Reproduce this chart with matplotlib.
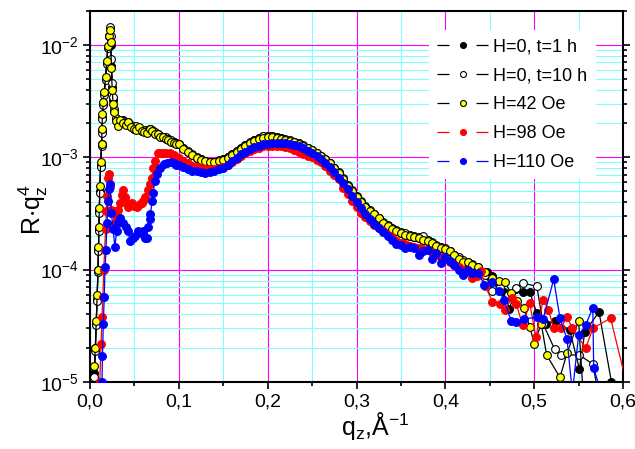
import matplotlib
matplotlib.use("Agg")
import matplotlib.pyplot as plt
from matplotlib.lines import Line2D
from matplotlib.ticker import MultipleLocator, LogLocator, NullFormatter, FuncFormatter

plt.rcParams['font.family'] = ['Liberation Sans', 'DejaVu Sans']
plt.rcParams['mathtext.fontset'] = 'custom'
plt.rcParams['mathtext.rm'] = 'Liberation Sans'
plt.rcParams['mathtext.it'] = 'Liberation Sans:italic'

# === DATA (q in 1/A, R*q^4)
# shared q grid of the smooth middle part
Q_MID = [0.100, 0.105, 0.110, 0.115, 0.120, 0.125, 0.130, 0.135, 0.140, 0.145,
         0.150, 0.155, 0.160, 0.165, 0.170, 0.175, 0.180, 0.185, 0.190, 0.195,
         0.200, 0.205, 0.210, 0.215, 0.220, 0.225, 0.230, 0.235, 0.240, 0.245,
         0.250, 0.255, 0.260, 0.265, 0.270, 0.275, 0.280, 0.285, 0.290, 0.295,
         0.300, 0.305, 0.310, 0.315, 0.320, 0.325, 0.330, 0.335, 0.340, 0.345,
         0.350, 0.355, 0.360, 0.365, 0.370, 0.375, 0.380, 0.385, 0.390, 0.395,
         0.400, 0.405, 0.410, 0.415, 0.420, 0.425, 0.430]

# H=0 heads share one q grid
H0_HEAD_Q = [0.005, 0.006, 0.007, 0.008, 0.009, 0.0095, 0.010, 0.0105, 0.011, 0.012,
             0.013, 0.0135, 0.014, 0.015, 0.016, 0.0175, 0.019, 0.020, 0.021, 0.0225,
             0.0235, 0.024, 0.025, 0.026, 0.027, 0.029, 0.031, 0.034, 0.037, 0.040,
             0.043, 0.046, 0.049, 0.052, 0.055, 0.058, 0.061, 0.064, 0.067, 0.070,
             0.073, 0.076, 0.079, 0.082, 0.085, 0.088, 0.091, 0.094, 0.097]

BLACK_HEAD_R = [1.2e-5, 2.0e-5, 3.3e-5, 5.5e-5, 1.0e-4, 1.5e-4, 2.3e-4, 3.3e-4, 5.0e-4, 8.5e-4,
                1.3e-3, 1.7e-3, 2.3e-3, 3.0e-3, 3.7e-3, 5.0e-3, 7.0e-3, 9.5e-3, 1.2e-2, 1.4e-2,
                1.0e-2, 6.5e-3, 4.2e-3, 3.2e-3, 2.6e-3, 2.2e-3, 2.05e-3, 2.1e-3, 2.15e-3, 2.05e-3,
                2.0e-3, 1.9e-3, 1.85e-3, 1.85e-3, 1.8e-3, 1.75e-3, 1.72e-3, 1.75e-3, 1.78e-3, 1.75e-3,
                1.65e-3, 1.6e-3, 1.55e-3, 1.52e-3, 1.48e-3, 1.44e-3, 1.4e-3, 1.37e-3, 1.33e-3]
BLACK_MID_R = [1.30e-3, 1.20e-3, 1.12e-3, 1.05e-3, 9.9e-4, 9.6e-4, 9.2e-4, 9.0e-4, 9.0e-4, 9.3e-4,
               9.6e-4, 1.00e-3, 1.06e-3, 1.13e-3, 1.20e-3, 1.28e-3, 1.35e-3, 1.42e-3, 1.48e-3, 1.53e-3,
               1.55e-3, 1.54e-3, 1.50e-3, 1.47e-3, 1.43e-3, 1.40e-3, 1.36e-3, 1.31e-3, 1.27e-3, 1.20e-3,
               1.14e-3, 1.07e-3, 1.01e-3, 9.5e-4, 8.8e-4, 8.0e-4, 7.3e-4, 6.4e-4, 5.6e-4, 5.0e-4,
               4.4e-4, 4.0e-4, 3.6e-4, 3.3e-4, 3.1e-4, 2.8e-4, 2.6e-4, 2.45e-4, 2.3e-4, 2.2e-4,
               2.1e-4, 2.05e-4, 2.0e-4, 1.95e-4, 1.9e-4, 1.85e-4, 1.8e-4, 1.7e-4, 1.6e-4, 1.55e-4,
               1.52e-4, 1.45e-4, 1.35e-4, 1.25e-4, 1.2e-4, 1.15e-4, 1.1e-4]
BLACK_TAIL_Q = [0.437, 0.447, 0.452, 0.459, 0.466, 0.472, 0.480, 0.487, 0.495, 0.503,
                0.513, 0.523, 0.540, 0.551, 0.557, 0.573, 0.587]
BLACK_TAIL_R = [1.02e-4, 9.5e-5, 8.8e-5, 7.8e-5, 6.3e-5, 4.5e-5, 6.7e-5, 6.3e-5, 6.3e-5, 4.1e-5,
                3.3e-5, 3.5e-5, 2.9e-5, 1.3e-5, 2.8e-5, 4.2e-5, 1.0e-5]

WHITE_HEAD_R = [1.1e-5, 1.9e-5, 3.2e-5, 5.3e-5, 9.5e-5, 1.45e-4, 2.2e-4, 3.2e-4, 4.8e-4, 8.2e-4,
                1.25e-3, 1.65e-3, 2.2e-3, 2.9e-3, 3.6e-3, 4.9e-3, 6.8e-3, 9.3e-3, 1.2e-2, 1.45e-2,
                1.2e-2, 7.5e-3, 4.6e-3, 3.4e-3, 2.7e-3, 2.25e-3, 2.1e-3, 2.15e-3, 2.1e-3, 2.0e-3,
                2.05e-3, 1.95e-3, 1.8e-3, 1.9e-3, 1.82e-3, 1.7e-3, 1.75e-3, 1.7e-3, 1.8e-3, 1.72e-3,
                1.68e-3, 1.58e-3, 1.56e-3, 1.5e-3, 1.5e-3, 1.45e-3, 1.41e-3, 1.38e-3, 1.34e-3]
WHITE_MID_R = [1.31e-3, 1.21e-3, 1.13e-3, 1.06e-3, 1.00e-3, 9.6e-4, 9.3e-4, 9.1e-4, 9.1e-4, 9.4e-4,
               9.7e-4, 1.01e-3, 1.07e-3, 1.14e-3, 1.21e-3, 1.29e-3, 1.36e-3, 1.43e-3, 1.49e-3, 1.53e-3,
               1.54e-3, 1.53e-3, 1.50e-3, 1.47e-3, 1.44e-3, 1.41e-3, 1.37e-3, 1.33e-3, 1.28e-3, 1.22e-3,
               1.15e-3, 1.08e-3, 1.02e-3, 9.6e-4, 8.9e-4, 8.1e-4, 7.4e-4, 6.5e-4, 5.7e-4, 5.1e-4,
               4.5e-4, 4.1e-4, 3.7e-4, 3.4e-4, 3.15e-4, 2.9e-4, 2.65e-4, 2.5e-4, 2.35e-4, 2.25e-4,
               2.15e-4, 2.1e-4, 2.05e-4, 2.0e-4, 1.95e-4, 2.0e-4, 1.85e-4, 1.75e-4, 1.65e-4, 1.6e-4,
               1.55e-4, 1.45e-4, 1.35e-4, 1.3e-4, 1.22e-4, 1.16e-4, 1.12e-4]
WHITE_TAIL_Q = [0.437, 0.445, 0.453, 0.462, 0.470, 0.479, 0.487, 0.503, 0.510, 0.523,
                0.530, 0.551, 0.566, 0.575]
WHITE_TAIL_R = [1.05e-4, 9.0e-5, 6.5e-5, 7.0e-5, 6.0e-5, 6.9e-5, 7.6e-5, 7.1e-5, 3.3e-5, 1.96e-5,
                1.74e-5, 1.74e-5, 1.44e-5, 6e-6]

YELLOW_HEAD_R = [1.4e-5, 2.0e-5, 3.5e-5, 6.0e-5, 1.0e-4, 1.6e-4, 2.4e-4, 3.5e-4, 5.5e-4, 9.0e-4,
                 1.3e-3, 1.8e-3, 2.4e-3, 3.1e-3, 3.8e-3, 5.2e-3, 7.2e-3, 9.8e-3, 1.2e-2, 1.35e-2,
                 1.05e-2, 6.2e-3, 4.0e-3, 3.0e-3, 2.5e-3, 2.1e-3, 1.9e-3, 2.15e-3, 2.0e-3, 1.95e-3,
                 2.05e-3, 1.85e-3, 1.8e-3, 1.75e-3, 1.85e-3, 1.7e-3, 1.68e-3, 1.65e-3, 1.8e-3, 1.7e-3,
                 1.62e-3, 1.6e-3, 1.52e-3, 1.5e-3, 1.45e-3, 1.42e-3, 1.38e-3, 1.35e-3, 1.32e-3]
YELLOW_MID_R = [1.30e-3, 1.19e-3, 1.11e-3, 1.04e-3, 9.8e-4, 9.5e-4, 9.2e-4, 9.0e-4, 9.0e-4, 9.2e-4,
                9.5e-4, 9.9e-4, 1.05e-3, 1.12e-3, 1.19e-3, 1.26e-3, 1.33e-3, 1.39e-3, 1.44e-3, 1.48e-3,
                1.50e-3, 1.50e-3, 1.48e-3, 1.45e-3, 1.42e-3, 1.39e-3, 1.36e-3, 1.32e-3, 1.27e-3, 1.21e-3,
                1.15e-3, 1.09e-3, 1.02e-3, 9.6e-4, 8.9e-4, 8.1e-4, 7.3e-4, 6.4e-4, 5.6e-4, 5.0e-4,
                4.4e-4, 4.0e-4, 3.6e-4, 3.3e-4, 3.1e-4, 2.85e-4, 2.6e-4, 2.45e-4, 2.3e-4, 2.2e-4,
                2.1e-4, 2.05e-4, 2.0e-4, 1.95e-4, 1.9e-4, 1.85e-4, 1.8e-4, 1.72e-4, 1.62e-4, 1.56e-4,
                1.52e-4, 1.45e-4, 1.35e-4, 1.25e-4, 1.18e-4, 1.16e-4, 1.1e-4]
YELLOW_TAIL_Q = [0.437, 0.445, 0.452, 0.460, 0.467, 0.474, 0.481, 0.488, 0.495, 0.500,
                 0.508, 0.514, 0.529, 0.537, 0.550, 0.556]
YELLOW_TAIL_R = [1.05e-4, 9.5e-5, 8.5e-5, 8.0e-5, 7.7e-5, 6.2e-5, 5.3e-5, 4.6e-5, 3.1e-5, 2.2e-5,
                 3.3e-5, 1.74e-5, 1.1e-5, 1.8e-5, 3.5e-5, 6e-6]

RED_HEAD_Q = [0.011, 0.0125, 0.0135, 0.0145, 0.0155, 0.0165, 0.0175, 0.0185, 0.019, 0.020,
              0.021, 0.0225, 0.024, 0.026, 0.028, 0.030, 0.032, 0.034, 0.036, 0.037,
              0.039, 0.041, 0.043, 0.045, 0.047, 0.050, 0.053, 0.056, 0.058, 0.060,
              0.062, 0.065, 0.068, 0.070, 0.071, 0.073, 0.076, 0.079, 0.082, 0.086,
              0.090, 0.094, 0.097]
RED_HEAD_R = [1.0e-5, 2.2e-5, 3.8e-5, 5.7e-5, 1.0e-4, 1.5e-4, 2.3e-4, 3.3e-4, 4.5e-4, 6.5e-4,
              7.1e-4, 5.4e-4, 3.4e-4, 3.3e-4, 2.6e-4, 2.9e-4, 3.4e-4, 3.9e-4, 4.6e-4, 5.1e-4,
              4.4e-4, 4.0e-4, 3.6e-4, 3.8e-4, 3.9e-4, 3.7e-4, 3.6e-4, 3.8e-4, 3.9e-4, 4.1e-4,
              4.4e-4, 5.1e-4, 5.8e-4, 6.6e-4, 8.1e-4, 9.3e-4, 1.08e-3, 1.1e-3, 1.1e-3, 1.09e-3,
              1.08e-3, 1.04e-3, 1.0e-3]
RED_MID_R = [9.8e-4, 9.3e-4, 8.8e-4, 8.4e-4, 8.2e-4, 8.0e-4, 7.9e-4, 7.9e-4, 7.9e-4, 8.0e-4,
             8.2e-4, 8.5e-4, 9.0e-4, 9.7e-4, 1.03e-3, 1.09e-3, 1.14e-3, 1.19e-3, 1.22e-3, 1.25e-3,
             1.27e-3, 1.27e-3, 1.27e-3, 1.26e-3, 1.23e-3, 1.20e-3, 1.16e-3, 1.11e-3, 1.07e-3, 1.03e-3,
             1.00e-3, 9.5e-4, 9.0e-4, 8.3e-4, 7.6e-4, 7.0e-4, 6.4e-4, 5.3e-4, 4.7e-4, 4.1e-4,
             3.6e-4, 3.2e-4, 2.95e-4, 2.7e-4, 2.5e-4, 2.35e-4, 2.2e-4, 2.05e-4, 1.95e-4, 1.8e-4,
             1.72e-4, 1.68e-4, 1.62e-4, 1.58e-4, 1.56e-4, 1.52e-4, 1.48e-4, 1.42e-4, 1.36e-4, 1.3e-4,
             1.25e-4, 1.18e-4, 1.1e-4, 1.05e-4, 1.0e-4, 9.5e-5, 8.4e-5]
RED_TAIL_Q = [0.436, 0.440, 0.445, 0.453, 0.461, 0.467, 0.475, 0.480, 0.487, 0.495,
              0.502, 0.510, 0.516, 0.522, 0.530, 0.537, 0.543, 0.558, 0.566, 0.586,
              0.605]
RED_TAIL_R = [8.8e-5, 9.7e-5, 7.1e-5, 5.2e-5, 4.9e-5, 4.4e-5, 5.6e-5, 4.9e-5, 3.2e-5, 5.0e-5,
              2.5e-5, 5.4e-5, 4.4e-5, 3.0e-5, 3.0e-5, 3.8e-5, 3.0e-5, 2.0e-5, 3.0e-5, 3.7e-5,
              9e-6]

BLUE_HEAD_Q = [0.0135, 0.014, 0.015, 0.016, 0.017, 0.018, 0.019, 0.0205, 0.0215, 0.0225,
               0.024, 0.026, 0.028, 0.030, 0.031, 0.034, 0.037, 0.040, 0.043, 0.045,
               0.048, 0.051, 0.054, 0.057, 0.060, 0.062, 0.064, 0.065, 0.067, 0.068,
               0.070, 0.071, 0.073, 0.075, 0.079, 0.083, 0.087, 0.091, 0.094, 0.097]
BLUE_HEAD_R = [1.0e-5, 1.7e-5, 3.3e-5, 5.7e-5, 1.05e-4, 1.5e-4, 2.6e-4, 4.1e-4, 5.2e-4, 5.8e-4,
               3.2e-4, 2.3e-4, 1.6e-4, 2.2e-4, 2.6e-4, 2.9e-4, 2.6e-4, 2.4e-4, 2.2e-4, 1.8e-4,
               1.9e-4, 2.0e-4, 2.2e-4, 2.1e-4, 2.2e-4, 1.9e-4, 1.9e-4, 2.4e-4, 2.8e-4, 3.1e-4,
               4.1e-4, 4.8e-4, 6.2e-4, 7.1e-4, 8.1e-4, 8.7e-4, 8.9e-4, 9.0e-4, 8.9e-4, 8.6e-4]
BLUE_MID_R = [8.5e-4, 8.2e-4, 7.9e-4, 7.6e-4, 7.5e-4, 7.4e-4, 7.3e-4, 7.4e-4, 7.5e-4, 7.8e-4,
              8.1e-4, 8.6e-4, 9.2e-4, 9.9e-4, 1.06e-3, 1.12e-3, 1.18e-3, 1.23e-3, 1.27e-3, 1.30e-3,
              1.32e-3, 1.34e-3, 1.35e-3, 1.35e-3, 1.34e-3, 1.32e-3, 1.29e-3, 1.25e-3, 1.20e-3, 1.14e-3,
              1.08e-3, 1.02e-3, 9.6e-4, 8.9e-4, 8.2e-4, 7.4e-4, 6.6e-4, 5.9e-4, 5.2e-4, 4.5e-4,
              4.0e-4, 3.5e-4, 3.1e-4, 2.8e-4, 2.55e-4, 2.35e-4, 2.15e-4, 2.0e-4, 1.85e-4, 1.7e-4,
              1.65e-4, 1.55e-4, 1.6e-4, 1.55e-4, 1.35e-4, 1.45e-4, 1.5e-4, 1.25e-4, 1.4e-4, 1.15e-4,
              1.3e-4, 1.2e-4, 1.1e-4, 1.0e-4, 8.9e-5, 1.0e-4, 9.3e-5]
BLUE_TAIL_Q = [0.437, 0.444, 0.453, 0.460, 0.466, 0.474, 0.480, 0.488, 0.503, 0.510,
               0.522, 0.529, 0.537, 0.543, 0.550, 0.558, 0.566, 0.567, 0.578]
BLUE_TAIL_R = [9.3e-5, 7.3e-5, 7.7e-5, 6.5e-5, 5.4e-5, 3.5e-5, 3.4e-5, 3.6e-5, 3.8e-5, 3.6e-5,
               8.2e-5, 3.7e-5, 2.4e-5, 8e-6, 2.6e-5, 3.2e-5, 4.6e-5, 1.33e-5, 7e-6]

LABELS = ['H=0, t=1 h', 'H=0, t=10 h', 'H=42 Oe', 'H=98 Oe', 'H=110 Oe']

series = [
    (H0_HEAD_Q, BLACK_HEAD_R, BLACK_MID_R, BLACK_TAIL_Q, BLACK_TAIL_R, 'black', 'black', 'black'),
    (H0_HEAD_Q, WHITE_HEAD_R, WHITE_MID_R, WHITE_TAIL_Q, WHITE_TAIL_R, 'black', 'white', 'black'),
    (H0_HEAD_Q, YELLOW_HEAD_R, YELLOW_MID_R, YELLOW_TAIL_Q, YELLOW_TAIL_R, 'black', '#ffff00', 'black'),
    (RED_HEAD_Q, RED_HEAD_R, RED_MID_R, RED_TAIL_Q, RED_TAIL_R, 'red', 'red', 'red'),
    (BLUE_HEAD_Q, BLUE_HEAD_R, BLUE_MID_R, BLUE_TAIL_Q, BLUE_TAIL_R, 'blue', 'blue', 'blue'),
]

# === DRAW
fig = plt.figure(figsize=(6.35, 4.49), dpi=100)
ax = fig.add_axes([90 / 635, 67 / 449, 533 / 635, 371 / 449])
ax.set_yscale('log')
ax.set_xlim(0, 0.6)
ax.set_ylim(1e-5, 2e-2)

for i in [0, 1, 2, 4, 3]:  # red drawn over blue
    hq, hr, mr, tq, tr, lc, fc, ec = series[i]
    q = list(hq) + Q_MID + list(tq)
    r = list(hr) + list(mr) + list(tr)
    ax.plot(q, r, '-o', color=lc, lw=0.9, ms=5.6, mfc=fc, mec=ec, mew=0.8, zorder=3 + i)

ax.xaxis.set_major_locator(MultipleLocator(0.1))
ax.xaxis.set_minor_locator(MultipleLocator(0.05))
ax.xaxis.set_major_formatter(FuncFormatter(lambda v, p: f'{v:.1f}'.replace('.', ',')))
ax.yaxis.set_major_locator(LogLocator(base=10, numticks=10))
ax.yaxis.set_minor_locator(LogLocator(base=10, subs=range(2, 10), numticks=50))
ax.yaxis.set_minor_formatter(NullFormatter())

ax.set_axisbelow(True)
ax.grid(which='major', color='#ff00ff', lw=0.8)
ax.grid(which='minor', color='#80ffff', lw=0.8)

ax.tick_params(which='both', direction='out', top=False, right=True, labelsize=14, width=1.2)
ax.tick_params(which='major', length=5, pad=3)
ax.tick_params(which='minor', length=3)
for s in ax.spines.values():
    s.set_linewidth(1.5)

ax.set_xlabel(r'$\mathregular{q_z}$,Å$^\mathregular{-1}$', fontsize=18)
ax.set_ylabel(r'$\mathregular{R{\cdot}q_z^4}$', fontsize=18)
ax.xaxis.set_label_coords(0.535, -0.075)
ax.yaxis.set_label_coords(-0.075, 0.464)

# legend: short line - marker - short line (gap around the marker)
handles = []
for hq, hr, mr, tq, tr, lc, fc, ec in series:
    seg = Line2D([], [], color=lc, lw=0.9, linestyle=(0, (9.6, 21.6)))
    mk = Line2D([], [], ls='none', marker='o', ms=4.3, mfc=fc, mec=ec, mew=0.8)
    handles.append((seg, mk))

leg = ax.legend(handles, LABELS, loc='upper left', bbox_to_anchor=(0.636, 0.948),
                fontsize=13, frameon=True, fancybox=False, edgecolor='none',
                facecolor='white', framealpha=1, handlelength=2.82, handletextpad=0.3,
                labelspacing=0.66, borderpad=0.45, borderaxespad=0)
leg.set_zorder(20)

plt.savefig('out.png', dpi=100)
